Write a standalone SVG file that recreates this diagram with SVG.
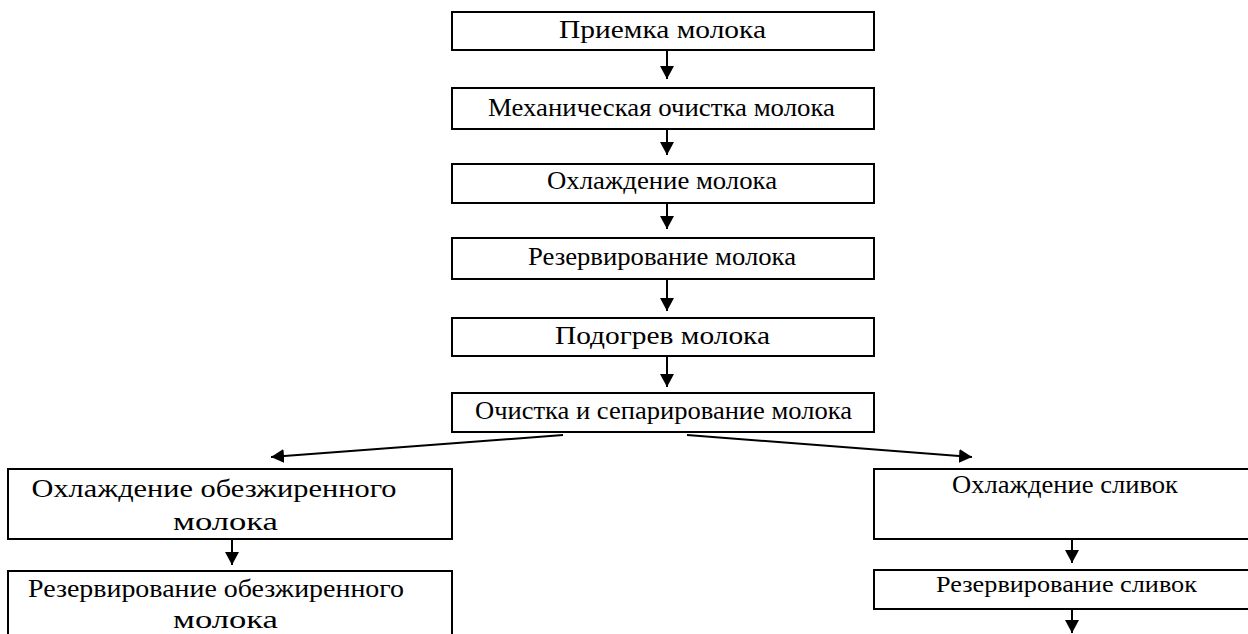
<svg xmlns="http://www.w3.org/2000/svg" width="1248" height="634" viewBox="0 0 1248 634">
  <style>
    .box { fill: #fff; stroke: #000; stroke-width: 2; }
    .lbl { font-family: 'Liberation Serif', 'DejaVu Serif', serif; fill: #000; text-anchor: middle; }
    .conn { stroke: #000; stroke-width: 2; fill: none; marker-end: url(#arrow); }
  </style>
  <defs>
    <marker id="arrow" markerUnits="userSpaceOnUse" markerWidth="14" markerHeight="14" refX="13" refY="7" orient="auto">
      <path d="M0,0 L13,7 L0,14 Z" fill="#000"/>
    </marker>
  </defs>
  <rect width="1248" height="634" fill="#fff"/>

  <!-- main milk line -->
  <g id="n1"><rect class="box" x="452" y="12" width="422" height="38"/><text class="lbl" x="662.5" y="38" font-size="25" textLength="207" lengthAdjust="spacingAndGlyphs">Приемка молока</text></g>
  <g id="n2"><rect class="box" x="452" y="88" width="422" height="41"/><text class="lbl" x="661.5" y="116" font-size="25" textLength="347" lengthAdjust="spacingAndGlyphs">Механическая очистка молока</text></g>
  <g id="n3"><rect class="box" x="452" y="164" width="422" height="39"/><text class="lbl" x="662" y="189" font-size="25" textLength="230" lengthAdjust="spacingAndGlyphs">Охлаждение молока</text></g>
  <g id="n4"><rect class="box" x="452" y="238" width="422" height="41"/><text class="lbl" x="662" y="265" font-size="25" textLength="268" lengthAdjust="spacingAndGlyphs">Резервирование молока</text></g>
  <g id="n5"><rect class="box" x="452" y="318" width="422" height="38"/><text class="lbl" x="662.5" y="344" font-size="25" textLength="215" lengthAdjust="spacingAndGlyphs">Подогрев молока</text></g>
  <g id="n6"><rect class="box" x="452" y="393" width="422" height="39"/><text class="lbl" x="663.5" y="419" font-size="25" textLength="377" lengthAdjust="spacingAndGlyphs">Очистка и сепарирование молока</text></g>

  <!-- skim milk branch -->
  <g id="n7"><rect class="box" x="8" y="469" width="444" height="70"/>
    <text class="lbl" x="214" y="497" font-size="26" textLength="365" lengthAdjust="spacingAndGlyphs">Охлаждение обезжиренного</text>
    <text class="lbl" x="225.5" y="530" font-size="26" textLength="105" lengthAdjust="spacingAndGlyphs">молока</text></g>
  <g id="n8"><rect class="box" x="8" y="571" width="444" height="80"/>
    <text class="lbl" x="216" y="597" font-size="26" textLength="376" lengthAdjust="spacingAndGlyphs">Резервирование обезжиренного</text>
    <text class="lbl" x="225.5" y="628" font-size="26" textLength="105" lengthAdjust="spacingAndGlyphs">молока</text></g>

  <!-- cream branch -->
  <g id="n9"><rect class="box" x="874" y="469" width="380" height="70"/><text class="lbl" x="1065" y="493" font-size="25" textLength="226" lengthAdjust="spacingAndGlyphs">Охлаждение сливок</text></g>
  <g id="n10"><rect class="box" x="874" y="570" width="380" height="39"/><text class="lbl" x="1066.5" y="592" font-size="24" textLength="261" lengthAdjust="spacingAndGlyphs">Резервирование сливок</text></g>

  <g id="connectors">
    <line class="conn" x1="667" y1="50" x2="667" y2="79"/>
    <line class="conn" x1="667" y1="129" x2="667" y2="155"/>
    <line class="conn" x1="667" y1="203" x2="667" y2="229"/>
    <line class="conn" x1="667" y1="279" x2="667" y2="311"/>
    <line class="conn" x1="667" y1="356" x2="667" y2="387"/>
    <line class="conn" x1="563" y1="435" x2="271" y2="457"/>
    <line class="conn" x1="687" y1="435" x2="972" y2="457"/>
    <line class="conn" x1="232" y1="539" x2="232" y2="565"/>
    <line class="conn" x1="1072" y1="539" x2="1072" y2="563"/>
    <line class="conn" x1="1072" y1="609" x2="1072" y2="633"/>
  </g>
</svg>
